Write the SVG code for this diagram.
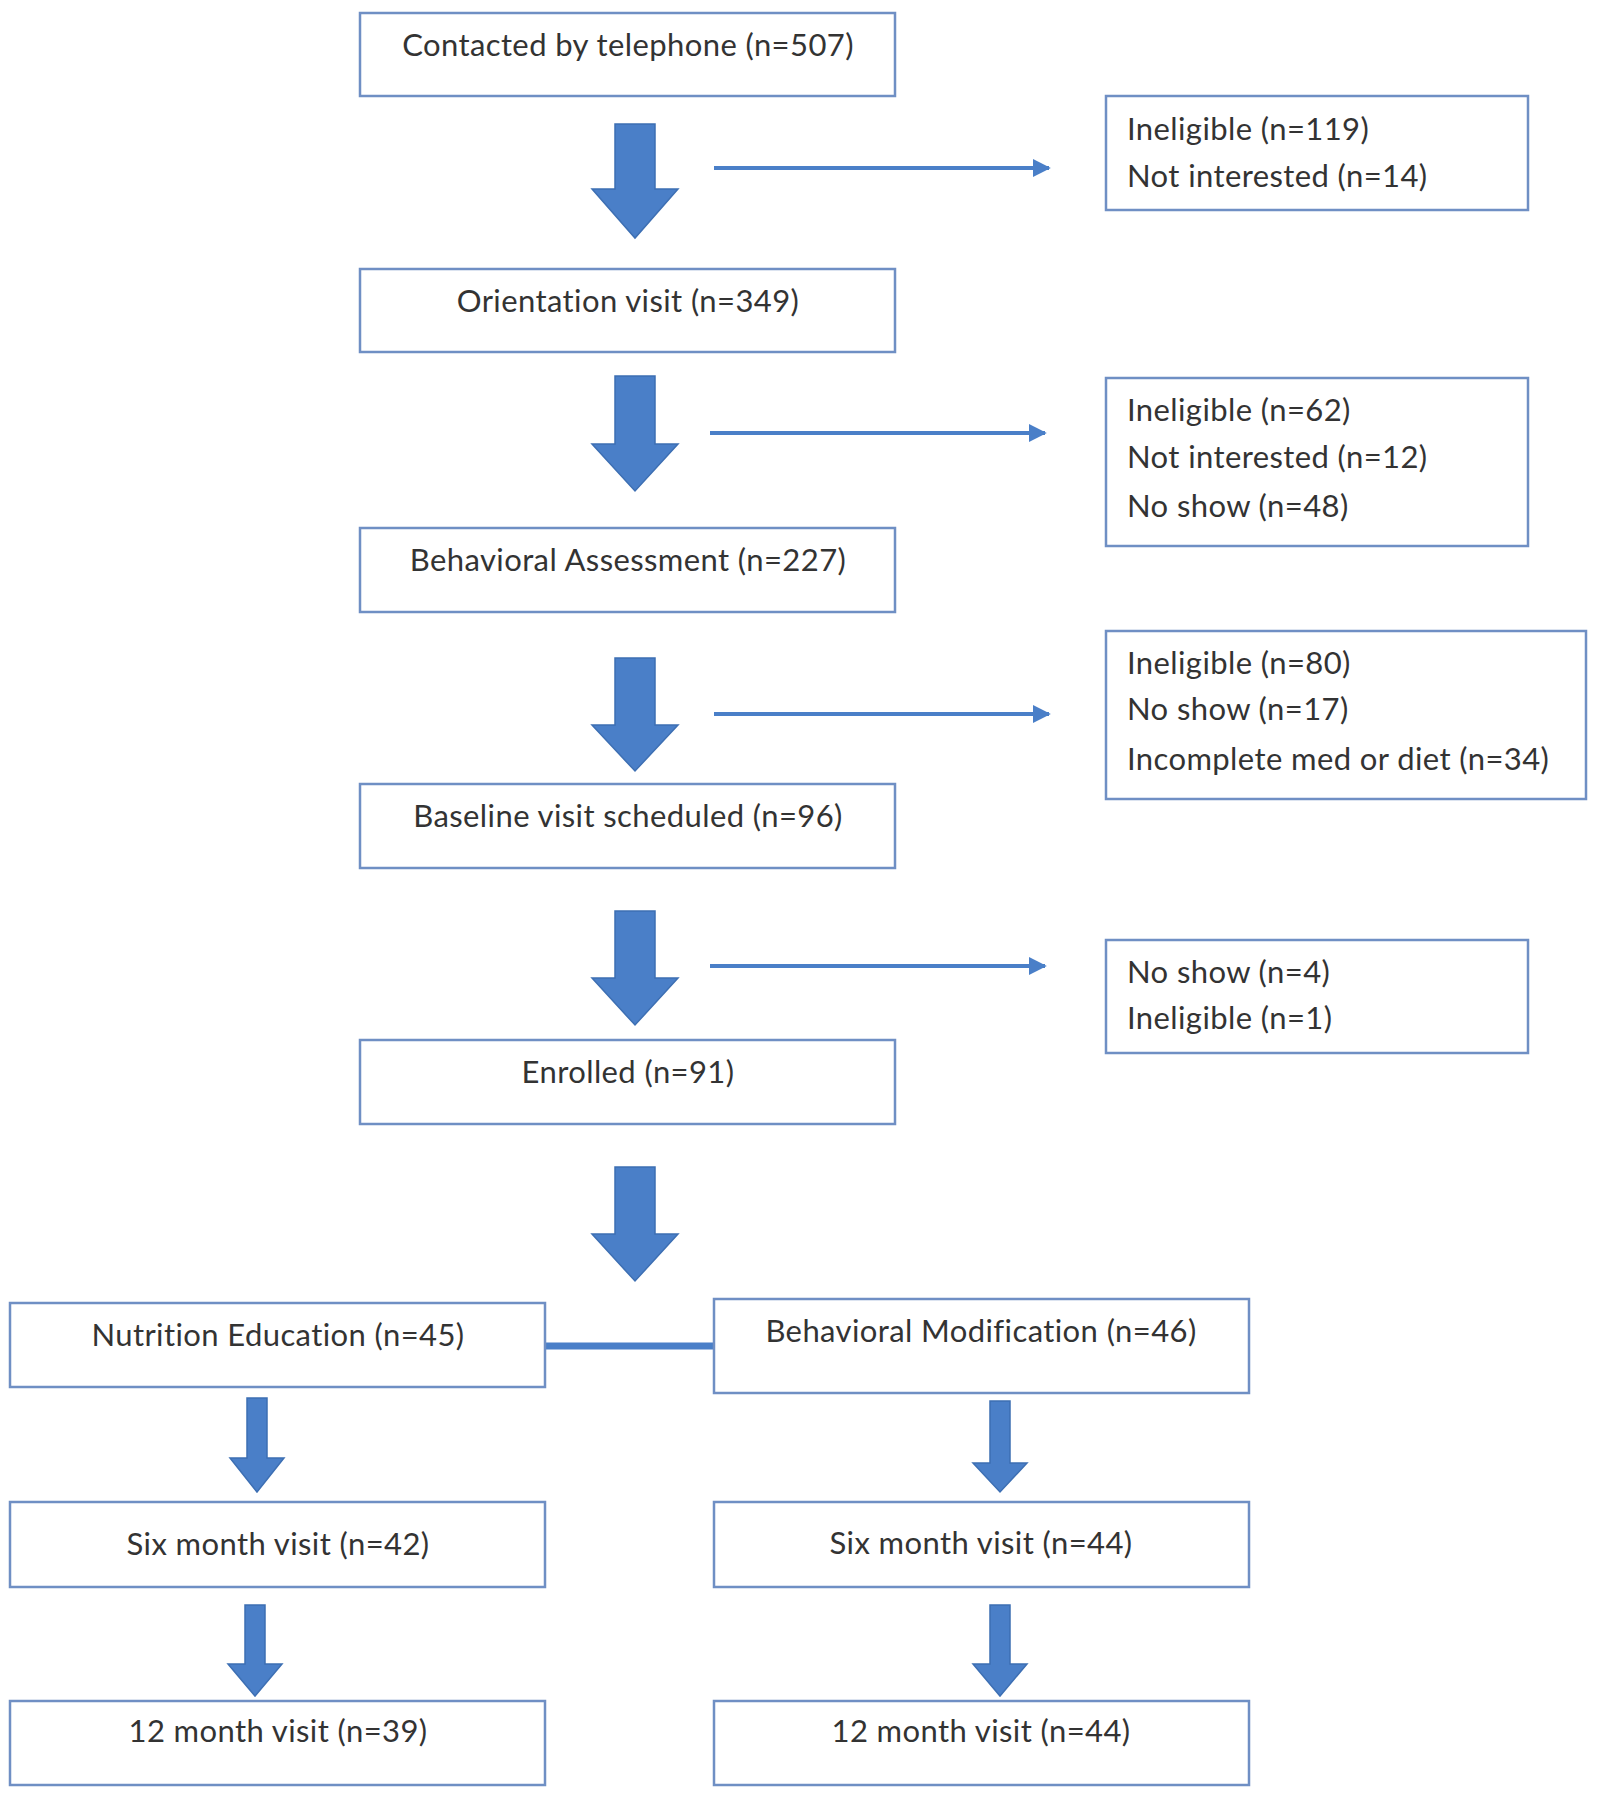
<svg xmlns="http://www.w3.org/2000/svg" width="1600" height="1800" viewBox="0 0 1600 1800">
<style>
  .box { fill: #ffffff; stroke: #6f8fc4; stroke-width: 2.5; }
  .t { font-family: Lato, "Liberation Sans", sans-serif; font-size: 31px; letter-spacing: 0.4px; fill: #333333; }
  .c { text-anchor: middle; }
  .big { fill: #4a7fc8; stroke: #3d6fb3; stroke-width: 1.5; }
  .thin { stroke: #4a7fc8; stroke-width: 4; fill: none; }
</style>
<defs>
  <marker id="ah" viewBox="0 0 10 10" refX="9" refY="5" markerWidth="4.5" markerHeight="4.5" orient="auto" markerUnits="strokeWidth">
    <path d="M0,0 L10,5 L0,10 z" fill="#4a7fc8"/>
  </marker>
</defs>
<rect width="1600" height="1800" fill="#ffffff"/>

<g id="connectors">
  <path class="big" d="M615,124 H655 V189 H678 L635,238 L592,189 H615 Z"/>
  <path class="big" d="M615,376 H655 V444 H678 L635,491 L592,444 H615 Z"/>
  <path class="big" d="M615,658 H655 V725 H678 L635,771 L592,725 H615 Z"/>
  <path class="big" d="M615,911 H655 V978 H678 L635,1025 L592,978 H615 Z"/>
  <path class="big" d="M615,1167 H655 V1234 H678 L635,1281 L592,1234 H615 Z"/>
  <line class="thin" x1="714" y1="168" x2="1049" y2="168" marker-end="url(#ah)"/>
  <line class="thin" x1="710" y1="433" x2="1045" y2="433" marker-end="url(#ah)"/>
  <line class="thin" x1="714" y1="714" x2="1049" y2="714" marker-end="url(#ah)"/>
  <line class="thin" x1="710" y1="966" x2="1045" y2="966" marker-end="url(#ah)"/>
  <line x1="545" y1="1346" x2="714" y2="1346" stroke="#4a7fc8" stroke-width="7"/>
  <path class="big" d="M247,1398 H267 V1458 H284 L257,1492 L230,1458 H247 Z"/>
  <path class="big" d="M245,1605 H265 V1664 H282 L255,1696 L228,1664 H245 Z"/>
  <path class="big" d="M990,1401 H1010 V1463 H1027 L1000,1492 L973,1463 H990 Z"/>
  <path class="big" d="M990,1605 H1010 V1664 H1027 L1000,1696 L973,1664 H990 Z"/>
</g>

<g id="n1"><rect class="box" x="360" y="13" width="535" height="83"/><text class="t c" x="628" y="56">Contacted by telephone (n=507)</text></g>
<g id="n2"><rect class="box" x="360" y="269" width="535" height="83"/><text class="t c" x="628" y="312">Orientation visit (n=349)</text></g>
<g id="n3"><rect class="box" x="360" y="528" width="535" height="84"/><text class="t c" x="628" y="571">Behavioral Assessment  (n=227)</text></g>
<g id="n4"><rect class="box" x="360" y="784" width="535" height="84"/><text class="t c" x="628" y="827">Baseline visit scheduled (n=96)</text></g>
<g id="n5"><rect class="box" x="360" y="1040" width="535" height="84"/><text class="t c" x="628" y="1083">Enrolled (n=91)</text></g>

<g id="x1"><rect class="box" x="1106" y="96" width="422" height="114"/>
  <text class="t" x="1127" y="140">Ineligible (n=119)</text>
  <text class="t" x="1127" y="187">Not interested (n=14)</text></g>
<g id="x2"><rect class="box" x="1106" y="378" width="422" height="168"/>
  <text class="t" x="1127" y="421">Ineligible (n=62)</text>
  <text class="t" x="1127" y="468">Not interested (n=12)</text>
  <text class="t" x="1127" y="517">No show  (n=48)</text></g>
<g id="x3"><rect class="box" x="1106" y="631" width="480" height="168"/>
  <text class="t" x="1127" y="674">Ineligible (n=80)</text>
  <text class="t" x="1127" y="720">No show  (n=17)</text>
  <text class="t" x="1127" y="770">Incomplete med or diet (n=34)</text></g>
<g id="x4"><rect class="box" x="1106" y="940" width="422" height="113"/>
  <text class="t" x="1127" y="983">No show  (n=4)</text>
  <text class="t" x="1127" y="1029">Ineligible (n=1)</text></g>

<g id="ne"><rect class="box" x="10" y="1303" width="535" height="84"/><text class="t c" x="278" y="1346">Nutrition Education (n=45)</text></g>
<g id="bm"><rect class="box" x="714" y="1299" width="535" height="94"/><text class="t c" x="981" y="1342">Behavioral Modification (n=46)</text></g>
<g id="ne6"><rect class="box" x="10" y="1502" width="535" height="85"/><text class="t c" x="278" y="1555">Six month visit (n=42)</text></g>
<g id="bm6"><rect class="box" x="714" y="1502" width="535" height="85"/><text class="t c" x="981" y="1554">Six month visit (n=44)</text></g>
<g id="ne12"><rect class="box" x="10" y="1701" width="535" height="84"/><text class="t c" x="278" y="1742">12 month visit (n=39)</text></g>
<g id="bm12"><rect class="box" x="714" y="1701" width="535" height="84"/><text class="t c" x="981" y="1742">12 month visit (n=44)</text></g>
</svg>
